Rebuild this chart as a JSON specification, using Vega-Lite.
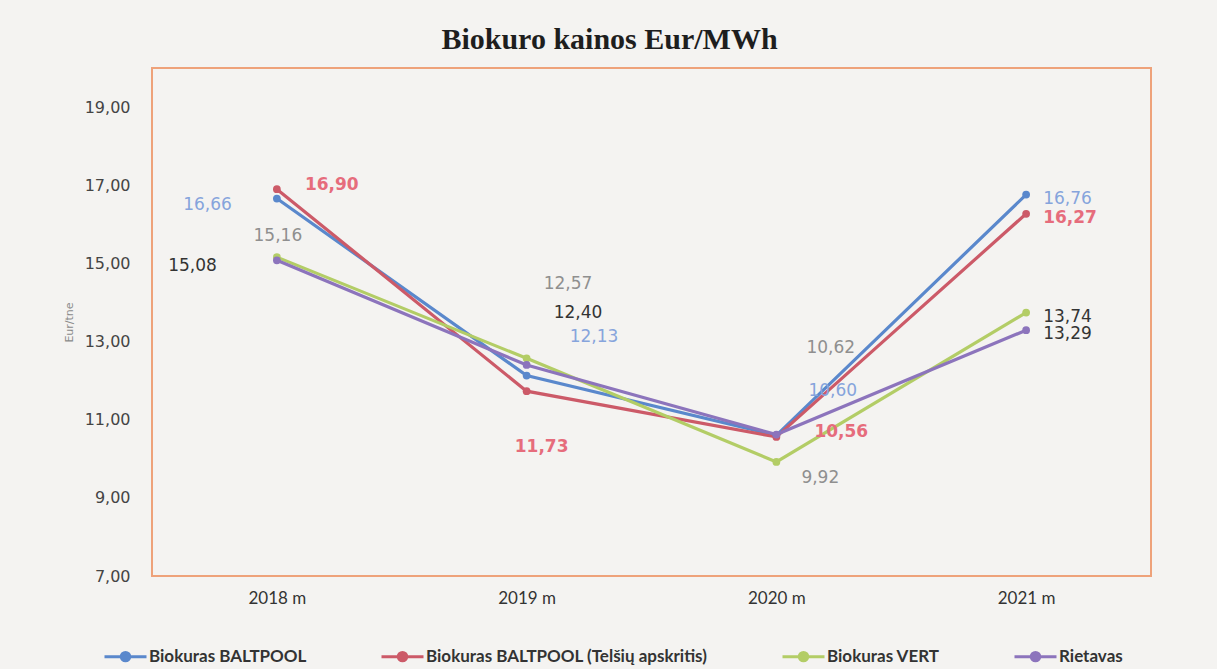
{
  "$schema": "https://vega.github.io/schema/vega-lite/v6.json",
  "width": 999,
  "height": 508,
  "autosize": {"type": "none"},
  "padding": {"left": 152, "top": 68, "right": 66, "bottom": 93},
  "background": "#f4f3f1",
  "title": {
    "text": "Biokuro kainos Eur/MWh",
    "font": "Liberation Serif",
    "fontSize": 30,
    "fontWeight": "bold",
    "color": "#1e1e1e",
    "anchor": "middle",
    "dx": -42,
    "offset": 13
  },
  "data": {
    "values": [
      {"year": "2018 m", "series": "Biokuras BALTPOOL", "value": 16.66},
      {"year": "2019 m", "series": "Biokuras BALTPOOL", "value": 12.13},
      {"year": "2020 m", "series": "Biokuras BALTPOOL", "value": 10.60},
      {"year": "2021 m", "series": "Biokuras BALTPOOL", "value": 16.76},
      {"year": "2018 m", "series": "Biokuras BALTPOOL (Telšių apskritis)", "value": 16.90},
      {"year": "2019 m", "series": "Biokuras BALTPOOL (Telšių apskritis)", "value": 11.73},
      {"year": "2020 m", "series": "Biokuras BALTPOOL (Telšių apskritis)", "value": 10.56},
      {"year": "2021 m", "series": "Biokuras BALTPOOL (Telšių apskritis)", "value": 16.27},
      {"year": "2018 m", "series": "Biokuras VERT", "value": 15.16},
      {"year": "2019 m", "series": "Biokuras VERT", "value": 12.57},
      {"year": "2020 m", "series": "Biokuras VERT", "value": 9.92},
      {"year": "2021 m", "series": "Biokuras VERT", "value": 13.74},
      {"year": "2018 m", "series": "Rietavas", "value": 15.08},
      {"year": "2019 m", "series": "Rietavas", "value": 12.40},
      {"year": "2020 m", "series": "Rietavas", "value": 10.62},
      {"year": "2021 m", "series": "Rietavas", "value": 13.29}
    ]
  },
  "encoding": {
    "x": {
      "field": "year",
      "type": "ordinal",
      "scale": {"type": "point", "padding": 0.5},
      "axis": {
        "title": null,
        "labelAngle": 0,
        "domain": false,
        "ticks": false,
        "labelPadding": 14,
        "labelFont": "Lato",
        "labelFontSize": 17,
        "labelColor": "#333333"
      }
    },
    "y": {
      "field": "value",
      "type": "quantitative",
      "scale": {"domain": [7, 20], "nice": false, "zero": false},
      "axis": {
        "values": [7, 9, 11, 13, 15, 17, 19],
        "format": ".2f",
        "title": "Eur/tne",
        "grid": false,
        "domain": false,
        "ticks": false,
        "labelPadding": 22,
        "labelFont": "DejaVu Sans",
        "labelFontSize": 16,
        "labelColor": "#444444",
        "titleFont": "DejaVu Sans",
        "titleFontSize": 11,
        "titleFontWeight": "normal",
        "titleColor": "#8a8a8a",
        "titlePadding": 10
      }
    }
  },
  "layer": [
    {
      "mark": {"type": "line", "strokeWidth": 3.2},
      "encoding": {
        "color": {
          "field": "series",
          "type": "nominal",
          "scale": {
            "domain": ["Biokuras BALTPOOL", "Biokuras BALTPOOL (Telšių apskritis)", "Biokuras VERT", "Rietavas"],
            "range": ["#5a88cc", "#cc5a68", "#b3cd66", "#8c74bc"]
          },
          "legend": {
            "orient": "none",
            "legendX": -49,
            "legendY": 566,
            "direction": "horizontal",
            "columns": 4,
            "columnPadding": 68,
            "title": null,
            "symbolType": "M-1,0L1,0M-0.2,0A0.2,0.2,0,1,1,0.2,0A0.2,0.2,0,1,1,-0.2,0Z",
            "symbolSize": 1764,
            "symbolStrokeWidth": 3,
            "labelOffset": 1,
            "labelLimit": 500,
            "labelFont": "Lato",
            "labelFontSize": 17,
            "labelFontWeight": "bold",
            "labelColor": "#333333",
            "encode": {
              "symbols": {
                "update": {
                  "fill": {"scale": "color", "field": "value"},
                  "stroke": {"scale": "color", "field": "value"},
                  "opacity": {"value": 1}
                }
              }
            }
          }
        }
      }
    },
    {
      "mark": {"type": "point", "filled": true, "size": 60, "opacity": 1},
      "encoding": {
        "color": {"field": "series", "type": "nominal"}
      }
    },
    {
      "encoding": {
        "text": {"field": "value", "type": "quantitative", "format": ".2f"},
        "color": {
          "condition": [
            {"test": "datum.series === 'Biokuras BALTPOOL'", "value": "#86a4dc"},
            {"test": "datum.series === 'Biokuras BALTPOOL (Telšių apskritis)'", "value": "#e66c7c"},
            {"test": "(datum.series === 'Biokuras VERT' && datum.year !== '2021 m') || (datum.series === 'Rietavas' && datum.year === '2020 m')", "value": "#8f8f8f"}
          ],
          "value": "#333333"
        }
      },
      "layer": [
        {"transform": [{"filter": "datum.year === '2021 m' && datum.series !== 'Biokuras BALTPOOL (Telšių apskritis)'"}],
         "mark": {"type": "text", "align": "left", "dx": 17, "dy": 4, "font": "DejaVu Sans", "fontSize": 17}},
        {"transform": [{"filter": "datum.year === '2021 m' && datum.series === 'Biokuras BALTPOOL (Telšių apskritis)'"}],
         "mark": {"type": "text", "align": "left", "dx": 17, "dy": 4, "font": "DejaVu Sans", "fontSize": 17, "fontWeight": "bold"}},
        {"transform": [{"filter": "datum.year === '2018 m' && datum.series === 'Biokuras BALTPOOL (Telšių apskritis)'"}],
         "mark": {"type": "text", "align": "left", "dx": 28, "dy": -4, "font": "DejaVu Sans", "fontSize": 17, "fontWeight": "bold"}},
        {"transform": [{"filter": "datum.year === '2018 m' && datum.series === 'Biokuras BALTPOOL'"}],
         "mark": {"type": "text", "align": "right", "dx": -45, "dy": 6, "font": "DejaVu Sans", "fontSize": 17}},
        {"transform": [{"filter": "datum.year === '2018 m' && datum.series === 'Biokuras VERT'"}],
         "mark": {"type": "text", "align": "center", "dx": 1, "dy": -21, "font": "DejaVu Sans", "fontSize": 17}},
        {"transform": [{"filter": "datum.year === '2018 m' && datum.series === 'Rietavas'"}],
         "mark": {"type": "text", "align": "right", "dx": -60, "dy": 6, "font": "DejaVu Sans", "fontSize": 17}},
        {"transform": [{"filter": "datum.year === '2019 m' && datum.series === 'Biokuras VERT'"}],
         "mark": {"type": "text", "align": "left", "dx": 17, "dy": -74, "font": "DejaVu Sans", "fontSize": 17}},
        {"transform": [{"filter": "datum.year === '2019 m' && datum.series === 'Rietavas'"}],
         "mark": {"type": "text", "align": "left", "dx": 27, "dy": -52, "font": "DejaVu Sans", "fontSize": 17}},
        {"transform": [{"filter": "datum.year === '2019 m' && datum.series === 'Biokuras BALTPOOL'"}],
         "mark": {"type": "text", "align": "left", "dx": 43, "dy": -39, "font": "DejaVu Sans", "fontSize": 17}},
        {"transform": [{"filter": "datum.year === '2019 m' && datum.series === 'Biokuras BALTPOOL (Telšių apskritis)'"}],
         "mark": {"type": "text", "align": "center", "dx": 15, "dy": 56, "font": "DejaVu Sans", "fontSize": 17, "fontWeight": "bold"}},
        {"transform": [{"filter": "datum.year === '2020 m' && datum.series === 'Rietavas'"}],
         "mark": {"type": "text", "align": "left", "dx": 30, "dy": -87, "font": "DejaVu Sans", "fontSize": 17}},
        {"transform": [{"filter": "datum.year === '2020 m' && datum.series === 'Biokuras BALTPOOL'"}],
         "mark": {"type": "text", "align": "left", "dx": 32, "dy": -44, "font": "DejaVu Sans", "fontSize": 17}},
        {"transform": [{"filter": "datum.year === '2020 m' && datum.series === 'Biokuras BALTPOOL (Telšių apskritis)'"}],
         "mark": {"type": "text", "align": "left", "dx": 38, "dy": -5, "font": "DejaVu Sans", "fontSize": 17, "fontWeight": "bold"}},
        {"transform": [{"filter": "datum.year === '2020 m' && datum.series === 'Biokuras VERT'"}],
         "mark": {"type": "text", "align": "left", "dx": 25, "dy": 16, "font": "DejaVu Sans", "fontSize": 17}}
      ]
    }
  ],
  "config": {
    "locale": {
      "number": {"decimal": ",", "thousands": " ", "grouping": [3], "currency": ["", " €"]}
    },
    "view": {"stroke": "#eea27a", "strokeWidth": 2}
  }
}
